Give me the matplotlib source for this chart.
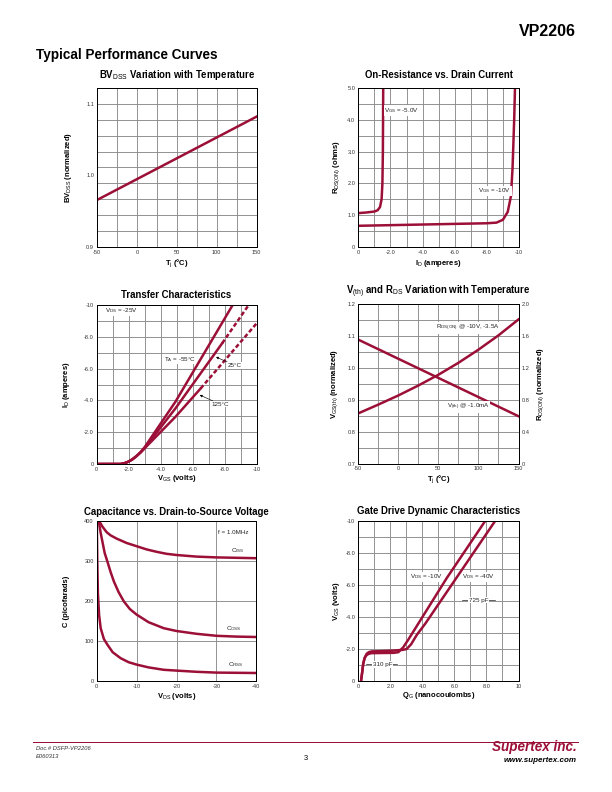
import numpy as np
import matplotlib
matplotlib.use("Agg")
import matplotlib.pyplot as plt
from matplotlib.lines import Line2D

plt.rcParams['font.family'] = ['Liberation Sans', 'DejaVu Sans']
plt.rcParams['mathtext.fontset'] = 'custom'
plt.rcParams['mathtext.rm'] = 'Liberation Sans'
plt.rcParams['mathtext.it'] = 'Liberation Sans:italic'
plt.rcParams['mathtext.bf'] = 'Liberation Sans:bold'

W, H = 612, 792
RED = '#9c1038'
GRID = '#8a8a8a'

# BVdss vs temperature
bv_temp = [-50, 150]
bv_norm = [0.9655, 1.0824]

# On-resistance vs drain current
ron_id_5v = [0, -0.5, -1.0, -1.2, -1.35, -1.45, -1.5, -1.53, -1.55]
ron_r_5v = [1.06, 1.08, 1.11, 1.15, 1.25, 1.5, 2.0, 3.0, 5.0]
ron_id_10v = [0, -2, -4, -6, -8, -8.6, -9.0, -9.3, -9.5, -9.6, -9.7, -9.75]
ron_r_10v = [0.66, 0.68, 0.70, 0.72, 0.74, 0.76, 0.85, 1.1, 1.6, 2.5, 4.0, 5.0]

# Transfer characteristics
tc_vgs_m55 = [0, -1.5, -1.75, -2.0, -2.25, -2.5, -2.75, -3.0, -4.93, -6.44, -8.5]
tc_id_m55 = [0, 0, -0.05, -0.15, -0.3, -0.5, -0.75, -1.05, -3.92, -6.49, -10]
tc_vgs_25 = [0, -1.5, -1.75, -2.0, -2.25, -2.5, -2.75, -3.0, -4.93, -7.85]
tc_id_25 = [0, 0, -0.05, -0.15, -0.3, -0.5, -0.73, -1.0, -3.5, -7.6]
tc_vgs_25_ext = [-7.85, -9.5]
tc_id_25_ext = [-7.6, -10]
tc_vgs_125 = [0, -1.5, -1.75, -2.0, -2.25, -2.5, -2.75, -3.0, -4.93, -6.5]
tc_id_125 = [0, 0, -0.05, -0.15, -0.3, -0.5, -0.72, -0.98, -2.97, -4.75]
tc_vgs_125_ext = [-6.5, -10]
tc_id_125_ext = [-4.75, -8.85]

# Vth and Rds vs temperature
vth_temp = [-50, 150]
vth_norm = [1.089, 0.8485]
rds_temp = [-50, -25, 0, 25, 50, 75, 100, 125, 150]
rds_norm = [0.63, 0.74, 0.855, 0.98, 1.115, 1.265, 1.43, 1.61, 1.81]

# Capacitance vs Vds
cap_vds_iss = [-0.6, -1.5, -2.5, -3.5, -5, -7.5, -10, -12.5, -15, -17.5, -20, -25, -30, -35, -40]
cap_iss = [400, 385, 372, 364, 356, 345, 337, 329, 323, 318, 315, 311, 309, 308, 307]
cap_vds_oss = [-0.5, -1, -1.5, -2, -2.67, -3.5, -4.3, -5.5, -6.8, -8.3, -10, -13, -16.8, -20, -25, -30, -35, -40]
cap_oss = [400, 370, 345, 320, 299, 272, 249, 222, 199, 180, 166, 147, 132, 125, 118, 113, 111, 110]
cap_vds_rss = [-0.02, -0.15, -0.3, -0.6, -1.0, -1.8, -2.67, -4, -6, -8, -10, -13, -16.8, -20, -25, -30, -40]
cap_rss = [400, 300, 220, 165, 132, 105, 91, 72, 57, 47, 41, 34, 28, 26, 23, 21, 20]

# Gate charge
gc_q_10 = [0.17, 0.25, 0.31, 0.4, 0.52, 0.65, 0.83, 1.5, 2.2, 2.5, 2.8, 3.13, 5.5, 7.92]
gc_v_10 = [0, -0.6, -1.1, -1.45, -1.62, -1.7, -1.74, -1.75, -1.76, -1.8, -2.1, -2.6, -6.4, -10]
gc_q_40 = [0.17, 0.25, 0.31, 0.4, 0.52, 0.65, 0.83, 1.5, 2.2, 2.8, 3.02, 3.3, 3.65, 4.17, 8.54]
gc_v_40 = [0, -0.6, -1.1, -1.45, -1.7, -1.8, -1.85, -1.87, -1.9, -1.95, -2.0, -2.3, -2.88, -3.57, -10]


def rect(l, t, r, b):
    return [l / W, 1 - b / H, (r - l) / W, (b - t) / H]


def ftext(x, y, s, **kw):
    fig.text(x / W, 1 - y / H, s, **kw)


def frame(ax, xlim, ylim, xmaj, xlab, ymaj, ylab, xgrid, ygrid):
    ax.set_xlim(*xlim)
    ax.set_ylim(*ylim)
    ax.set_xticks(xmaj)
    ax.set_xticklabels(xlab)
    ax.set_yticks(ymaj)
    ax.set_yticklabels(ylab)
    # grid drawn on the division lines (label positions may sit between them)
    for g in xgrid:
        ax.axvline(g, color=GRID, lw=0.9, zorder=0.5)
    for g in ygrid:
        ax.axhline(g, color=GRID, lw=0.9, zorder=0.5)
    ax.tick_params(which='both', length=0, labelsize=5.6, pad=3, colors='#333333')
    for s in ax.spines.values():
        s.set_linewidth(1.0)
        s.set_zorder(5)


fig = plt.figure(figsize=(W / 72, H / 72), dpi=72)

LW = 2.5
lab = dict(fontsize=6.2, color='#222222')
box = dict(fc='white', ec='none', pad=0.6)

# ---- BVdss
ax1 = fig.add_axes(rect(97, 88.3, 256.5, 246.7))
frame(ax1, (-50, 150), (0.9, 1.1222), [-50, 0, 50, 100, 150], ['-50', '0', '50', '100', '150'],
      [0.9, 1.0, 1.1], ['0.9', '1.0', '1.1'],
      np.arange(-50, 151, 25), np.linspace(0.9, 1.1222, 11))
ax1.plot(bv_temp, bv_norm, color=RED, lw=LW)

# ---- On-resistance
ax2 = fig.add_axes(rect(358.3, 88.3, 519, 246.7))
frame(ax2, (0, -10), (0, 5), [0, -2, -4, -6, -8, -10], ['0', '-2.0', '-4.0', '-6.0', '-8.0', '-10'],
      [0, 1, 2, 3, 4, 5], ['0', '1.0', '2.0', '3.0', '4.0', '5.0'],
      np.arange(0, -10.1, -1), np.arange(0, 5.01, 0.5))
ax2.plot(ron_id_5v, ron_r_5v, color=RED, lw=LW)
ax2.plot(ron_id_10v, ron_r_10v, color=RED, lw=LW)
ax2.text(-1.62, 4.3, r'V$_{\rm GS}$ = -5.0V', va='center', ha='left', bbox=box, **lab)
ax2.text(-7.45, 1.76, r'V$_{\rm GS}$ = -10V', va='center', ha='left', bbox=box, **lab)

# ---- Transfer
ax3 = fig.add_axes(rect(96.5, 305, 256.7, 464))
frame(ax3, (0, -10), (0, -10), [0, -2, -4, -6, -8, -10], ['0', '-2.0', '-4.0', '-6.0', '-8.0', '-10'],
      [0, -2, -4, -6, -8, -10], ['0', '-2.0', '-4.0', '-6.0', '-8.0', '-10'],
      np.arange(0, -10.1, -1), np.arange(0, -10.1, -1))
dash = (0, (1.7, 1.0))
ax3.plot(tc_vgs_m55, tc_id_m55, color=RED, lw=LW)
ax3.plot(tc_vgs_25, tc_id_25, color=RED, lw=LW)
ax3.plot(tc_vgs_25_ext, tc_id_25_ext, color=RED, lw=LW, linestyle=dash)
ax3.plot(tc_vgs_125, tc_id_125, color=RED, lw=LW)
ax3.plot(tc_vgs_125_ext, tc_id_125_ext, color=RED, lw=LW, linestyle=dash)
ax3.text(-0.5, -9.62, r'V$_{\rm DS}$ = -25V', va='center', ha='left', bbox=box, **lab)
ax3.text(-4.2, -6.6, r'T$_{\rm A}$ = -55°C', va='center', ha='left', bbox=box, **lab)
arw = dict(arrowstyle='-|>', color='black', lw=0.6, mutation_scale=5, shrinkA=0, shrinkB=0)
ax3.annotate('25°C', xy=(-7.46, -6.73), xytext=(-8.2, -6.2), va='center', ha='left',
             arrowprops=arw, bbox=box, **lab)
ax3.annotate('125°C', xy=(-6.44, -4.34), xytext=(-7.15, -3.77), va='center', ha='left',
             arrowprops=arw, bbox=box, **lab)

# ---- Vth and Rds
ax4 = fig.add_axes(rect(358.3, 304.3, 518.5, 463.5))
frame(ax4, (-50, 150), (0.7, 1.2), [-50, 0, 50, 100, 150], ['-50', '0', '50', '100', '150'],
      [0.7, 0.8, 0.9, 1.0, 1.1, 1.2], ['0.7', '0.8', '0.9', '1.0', '1.1', '1.2'],
      np.arange(-50, 151, 25), np.arange(0.7, 1.201, 0.05))
ax4.plot(vth_temp, vth_norm, color=RED, lw=LW, zorder=3)
ax4r = ax4.twinx()
ax4r.set_ylim(0, 2.0)
ax4r.set_yticks([0, 0.4, 0.8, 1.2, 1.6, 2.0])
ax4r.set_yticklabels(['0', '0.4', '0.8', '1.2', '1.6', '2.0'])
ax4r.tick_params(length=0, labelsize=5.6, pad=3, colors='#333333')
ax4r.plot(rds_temp, rds_norm, color=RED, lw=LW)
ax4.text(47, 1.126, r'R$_{\rm DS(ON)}$ @ -10V, -3.5A', va='center', ha='left', bbox=box, zorder=4, **lab)
ax4.text(60.5, 0.878, r'V$_{\rm (th)}$ @ -1.0mA', va='center', ha='left', bbox=box, zorder=4, **lab)

# ---- Capacitance
ax5 = fig.add_axes(rect(96.7, 521, 256.3, 681))
frame(ax5, (0, -40), (0, 400), [0, -10, -20, -30, -40], ['0', '-10', '-20', '-30', '-40'],
      [0, 100, 200, 300, 400], ['0', '100', '200', '300', '400'],
      [0, -10, -20, -30, -40], [0, 100, 200, 300, 400])
ax5.plot(cap_vds_iss, cap_iss, color=RED, lw=LW)
ax5.plot(cap_vds_oss, cap_oss, color=RED, lw=LW)
ax5.plot(cap_vds_rss, cap_rss, color=RED, lw=LW)
ax5.text(-30.4, 372, 'f = 1.0MHz', va='center', ha='left', **lab)
ax5.text(-33.6, 326, r'C$_{\rm ISS}$', va='center', ha='left', **lab)
ax5.text(-32.4, 132, r'C$_{\rm OSS}$', va='center', ha='left', **lab)
ax5.text(-33.0, 42, r'C$_{\rm RSS}$', va='center', ha='left', **lab)

# ---- Gate charge
ax6 = fig.add_axes(rect(358.3, 521, 518.5, 681))
frame(ax6, (0, 10), (0, -10), [0, 2, 4, 6, 8, 10], ['0', '2.0', '4.0', '6.0', '8.0', '10'],
      [0, -2, -4, -6, -8, -10], ['0', '-2.0', '-4.0', '-6.0', '-8.0', '-10'],
      np.arange(0, 10.1, 1), np.arange(0, -10.1, -1))
ax6.plot(gc_q_10, gc_v_10, color=RED, lw=LW)
ax6.plot(gc_q_40, gc_v_40, color=RED, lw=LW)
ax6.text(3.2, -6.52, r'V$_{\rm DS}$ = -10V', va='center', ha='left', bbox=box, **lab)
ax6.text(6.5, -6.52, r'V$_{\rm DS}$ = -40V', va='center', ha='left', bbox=box, **lab)
ax6.plot([0.5, 2.4], [-1.05, -1.05], color='black', lw=0.6)
ax6.text(1.5, -1.05, '310 pF', va='center', ha='center', bbox=dict(fc='white', ec='none', pad=0.8), **lab)
ax6.plot([6.45, 8.55], [-5.06, -5.06], color='black', lw=0.6)
ax6.text(7.5, -5.06, '725 pF', va='center', ha='center', bbox=dict(fc='white', ec='none', pad=0.8), **lab)

# ---- titles and axis labels
tkw = dict(fontsize=9.6, fontweight='bold', ha='center', va='center')
ftext(176.7, 74.5, r'BV$_{\rm DSS}$ Variation with Temperature', **tkw)
ftext(438.6, 74.5, 'On-Resistance vs. Drain Current', **tkw)
ftext(176.6, 294.5, 'Transfer Characteristics', **tkw)
ftext(438.4, 292, r'V$_{\rm (th)}$ and R$_{\rm DS}$ Variation with Temperature', **tkw)
ftext(176.5, 512, 'Capacitance vs. Drain-to-Source Voltage', **tkw)
ftext(438.4, 511, 'Gate Drive Dynamic Characteristics', **tkw)

akw = dict(fontsize=7.6, fontweight='bold', ha='center', va='center')
ftext(176.7, 263.5, r'T$_{\rm j}$ (°C)', **akw)
ftext(68, 167.5, r'BV$_{\rm DSS}$ (normalized)', rotation=90, **akw)
ftext(438.6, 264, r'I$_{\rm D}$ (amperes)', **akw)
ftext(336.5, 167.5, r'R$_{\rm DS(ON)}$ (ohms)', rotation=90, **akw)
ftext(176.6, 478.5, r'V$_{\rm GS}$ (volts)', **akw)
ftext(66.5, 384.5, r'I$_{\rm D}$ (amperes)', rotation=90, **akw)
ftext(438.4, 479.5, r'T$_{\rm j}$ (°C)', **akw)
ftext(335, 384, r'V$_{\rm GS(th)}$ (normalized)', rotation=90, **akw)
ftext(540.5, 384, r'R$_{\rm DS(ON)}$ (normalized)', rotation=90, **akw)
ftext(176.5, 696, r'V$_{\rm DS}$ (volts)', **akw)
ftext(66.5, 601, 'C (picofarads)', rotation=90, **akw)
ftext(438.4, 695.5, r'Q$_{\rm G}$ (nanocoulombs)', **akw)
ftext(336.5, 601, r'V$_{\rm GS}$ (volts)', rotation=90, **akw)

# ---- page header and footer
ftext(576, 31, 'VP2206', fontsize=16, fontweight='bold', ha='right', va='center')
ftext(36, 54.5, 'Typical Performance Curves', fontsize=13.5, fontweight='bold', ha='left', va='center')
fig.add_artist(Line2D([33 / W, 578 / W], [1 - 741.5 / H, 1 - 741.5 / H], color=RED, lw=1.0))
ftext(36, 749, 'Doc.# DSFP-VP2206', fontsize=5.8, style='italic', ha='left', va='center', color='#333333')
ftext(36, 756.5, 'E060313', fontsize=5.8, style='italic', ha='left', va='center', color='#333333')
ftext(306, 758, '3', fontsize=7.5, ha='center', va='center')
ftext(577, 747.5, 'Supertex inc.', fontsize=13.5, fontweight='bold', style='italic', color=RED,
      ha='right', va='center')
ftext(577, 760, 'www.supertex.com', fontsize=8, fontweight='bold', style='italic', ha='right', va='center')

fig.savefig('out.png', dpi=72)
